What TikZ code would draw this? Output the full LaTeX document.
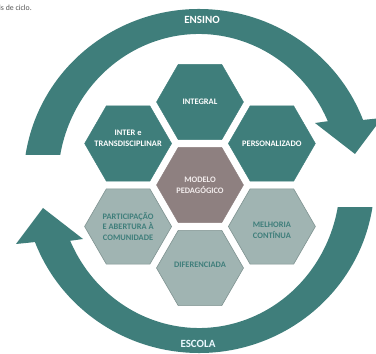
\documentclass[tikz,border=0pt]{standalone}
\usepackage{fontspec}
\setmainfont{Carlito}
\usetikzlibrary{shapes.geometric, calc}

\definecolor{tealdark}{HTML}{3F7E7B}
\definecolor{tealgrey}{HTML}{A0B4B2}
\definecolor{tealline}{HTML}{7F9391}
\definecolor{taupe}{HTML}{8E8080}
\definecolor{taupetext}{HTML}{F2ECEC}
\definecolor{captiongrey}{HTML}{555555}

\begin{document}
\begin{tikzpicture}[x=1pt, y=1pt,
    hexa/.style={regular polygon, regular polygon sides=6, minimum size=87pt, inner sep=0pt},
    hexdark/.style={hexa, fill=tealdark, draw=tealdark},
    hexlight/.style={hexa, fill=tealgrey, draw=tealline, line width=0.6pt},
    hexmid/.style={hexa, fill=taupe, draw=taupe},
    hextext/.style={font=\bfseries\fontsize{8.4}{10.6}\selectfont, align=center, text=white},
    cyclabel/.style={font=\bfseries\fontsize{11}{13}\selectfont, text=white}]
    \useasboundingbox (0,0) rectangle (376,354);
    \coordinate (O) at (199,173);

    % Cycle arrows
    \fill[tealdark] ($(O)+(171.3:175.5 and 172)$)
        arc[start angle=171.3, end angle=20.8, x radius=175.5, y radius=172]
        -- (382,236) -- (355,200) -- (315,231)
        -- ($(O)+(24:141 and 147)$)
        arc[start angle=24, end angle=169.8, x radius=141, y radius=147] -- cycle;
    \fill[tealdark] ($(O)+(351.3:175.5 and 172)$)
        arc[start angle=351.3, end angle=200.8, x radius=175.5, y radius=172]
        -- (16,110) -- (43,146) -- (83,115)
        -- ($(O)+(204:141 and 147)$)
        arc[start angle=204, end angle=349.8, x radius=141, y radius=147] -- cycle;
    \node[cyclabel] (ensino) at (202,334) {ENSINO};
    \node[cyclabel, text=white!92!cyan] (escola) at (198,10) {ESCOLA};

    % Draw nodes
    \node[hexmid] (modelo) at (200,169) {};
    \node[hexdark] (integral) at (200,252) {};
    \node[hexdark] (inter) at (128.1,210.5) {};
    \node[hexdark] (personalizado) at (271.9,210.5) {};
    \node[hexlight] (participacao) at (128.1,127.5) {};
    \node[hexlight] (melhoria) at (271.9,127.5) {};
    \node[hexlight] (diferenciada) at (200,86) {};

    % Labels
    \node[hextext, text=taupetext] at (modelo) {MODELO\\PEDAGÓGICO};
    \node[hextext] at (integral) {INTEGRAL};
    \node[hextext] at ([yshift=5]inter.center) {INTER e\\TRANSDISCIPLINAR};
    \node[hextext] at (personalizado) {PERSONALIZADO};
    \node[hextext, text=tealdark] at (participacao) {PARTICIPAÇÃO\\E ABERTURA À\\COMUNIDADE};
    \node[hextext, text=tealdark] at ([yshift=-4]melhoria.center) {MELHORIA\\CONTÍNUA};
    \node[hextext, text=tealdark] at ([yshift=3]diferenciada.center) {DIFERENCIADA};

    \node[anchor=west, inner sep=0pt, text=captiongrey, font=\fontsize{7.8}{9}\selectfont] (caption) at (-1,346) {is de ciclo.};
\end{tikzpicture}
\end{document}
